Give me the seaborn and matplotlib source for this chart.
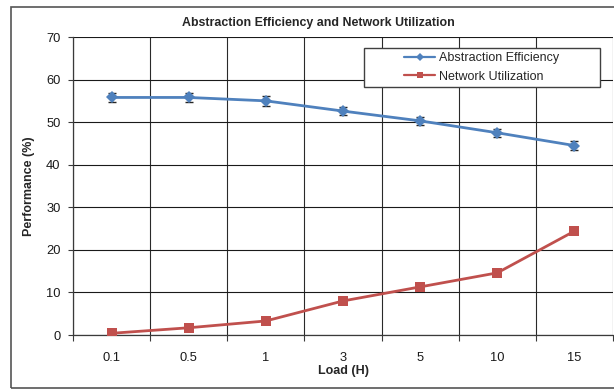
import matplotlib
matplotlib.use("Agg")
import matplotlib.pyplot as plt
from matplotlib.patches import Rectangle
from matplotlib.ticker import FixedLocator, MultipleLocator
import seaborn as sns
import pandas as pd
import numpy as np

# Data
loads = ["0.1", "0.5", "1", "3", "5", "10", "15"]
abstraction_eff = [55.8, 55.8, 55.0, 52.6, 50.3, 47.5, 44.5]
abstraction_err = [1.1, 1.1, 1.1, 1.0, 1.0, 1.0, 1.0]
network_util = [0.4, 1.7, 3.3, 8.0, 11.3, 14.6, 24.4]
series_names = ["Abstraction Efficiency", "Network Utilization"]
colors = ["#4F81BD", "#C0504D"]

df = pd.DataFrame({
    "Load": loads * 2,
    "Performance": abstraction_eff + network_util,
    "Series": [series_names[0]] * len(loads) + [series_names[1]] * len(loads),
})

sns.set_theme(style="white")
plt.rcParams["font.family"] = ["Liberation Sans", "DejaVu Sans"]

fig = plt.figure(figsize=(6.14, 3.89), dpi=100)
ax = fig.add_axes([73 / 614, 54 / 389, 540 / 614, 298 / 389])

sns.lineplot(
    data=df, x="Load", y="Performance", hue="Series", style="Series",
    palette=dict(zip(series_names, colors)),
    markers={series_names[0]: "D", series_names[1]: "s"},
    dashes=False, sort=False, linewidth=2.0, markersize=6.5,
    markeredgewidth=0, ax=ax, zorder=4,
)

# Error bars on the efficiency series
xpos = np.arange(len(loads))
ax.errorbar(xpos, abstraction_eff, yerr=abstraction_err, fmt="none",
            ecolor="#262626", elinewidth=1.0, capsize=2.6, capthick=1.0,
            zorder=3)

# Axes limits and grid
ax.set_xlim(-0.5, len(loads) - 0.5)
ax.set_ylim(0, 70)
ax.yaxis.set_major_locator(MultipleLocator(10))
ax.xaxis.set_minor_locator(FixedLocator(np.arange(-0.5, len(loads), 1.0)))
ax.grid(False)
ax.grid(True, axis="y", which="major", color="#1a1a1a", linewidth=0.8, zorder=1)
ax.grid(True, axis="x", which="minor", color="#2a2a2a", linewidth=0.8, zorder=1)
ax.set_axisbelow(True)

for side in ["top", "right"]:
    ax.spines[side].set_visible(False)
for side in ["left", "bottom"]:
    ax.spines[side].set_color("#3a3a3a")
    ax.spines[side].set_linewidth(0.9)

ax.tick_params(axis="y", which="major", direction="out", length=3.5, width=0.8,
               color="#3a3a3a", labelsize=9.3, pad=5.5, left=True)
ax.tick_params(axis="x", which="major", length=0, labelsize=9.3, pad=12)
ax.tick_params(axis="x", which="minor", direction="out", length=4, width=0.8,
               color="#3a3a3a", bottom=True)
for lbl in ax.get_xticklabels() + ax.get_yticklabels():
    lbl.set_color("#1a1a1a")

ax.set_xlabel("Load (H)", fontsize=9, fontweight="bold", labelpad=1)
ax.set_ylabel("Performance (%)", fontsize=9, fontweight="bold", labelpad=8)

# Legend in a boxed panel
ax.get_legend().remove()
box = Rectangle((0.539, 0.832), 0.437, 0.131, transform=ax.transAxes,
                facecolor="white", edgecolor="#404040", linewidth=1.0,
                zorder=5)
ax.add_patch(box)
handles, labels = ax.get_legend_handles_labels()
leg = ax.legend(handles, labels, loc="center", bbox_to_anchor=(0.757, 0.898),
                frameon=False, fontsize=9, handlelength=2.5,
                handletextpad=0.3, labelspacing=0.5, markerscale=0.7,
                borderpad=0.2)
leg.set_zorder(6)
for line in leg.get_lines():
    line.set_linewidth(1.6)

# Title
fig.text(318 / 614, 1 - 23 / 389,
         "Abstraction Efficiency and Network Utilization",
         ha="center", va="center", fontsize=8.9, fontweight="bold")

# Outer chart frame
fig.patches.append(Rectangle((11 / 614, 1 / 389), 700 / 614, 381 / 389,
                             transform=fig.transFigure, fill=False,
                             edgecolor="#555555", linewidth=1.2))

fig.savefig("out.png", dpi=100)
